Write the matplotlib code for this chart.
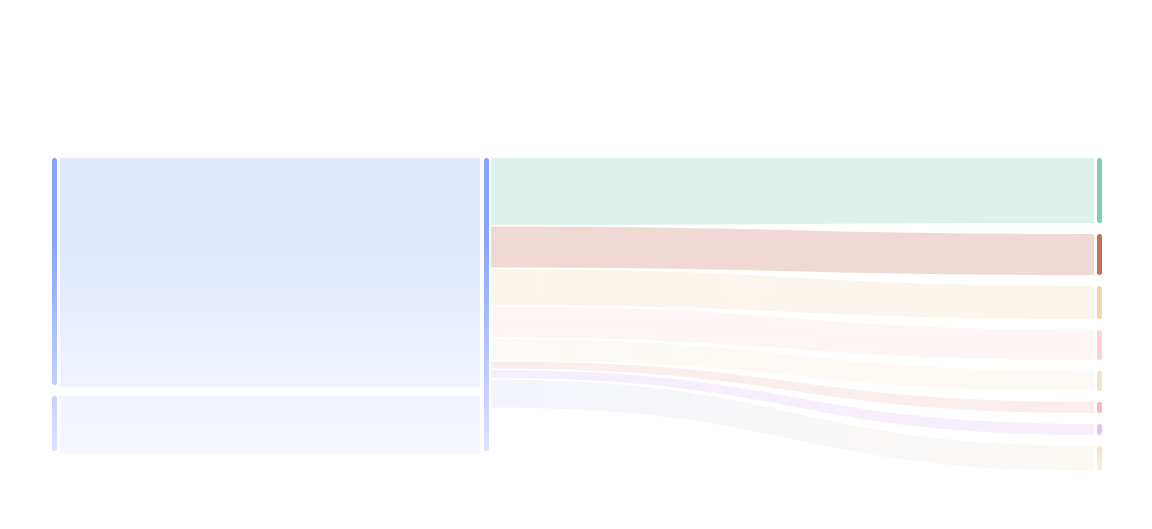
import numpy as np
import matplotlib.pyplot as plt
from matplotlib.path import Path
from matplotlib.patches import PathPatch, FancyBboxPatch
from matplotlib.colors import to_rgb

# data (no labels are shown in the chart, values read from band heights)
source_nodes = ["source_a", "source_b"]
source_values = [227, 55]

target_nodes = ["t1", "t2", "t3", "t4", "t5", "t6", "t7", "t8"]
target_values = [65, 41, 33, 30, 20, 11, 11, 25]
hub_out_values = [67, 41, 36, 31, 21, 7, 8, 28]

hub_color = "#88a4fc"
target_colors = ["#7fd0b2", "#c8705e", "#f2d6b0", "#ffd3d3",
                 "#f5e4c8", "#f5bcbc", "#e2c2fa", "#f0dcbc"]
target_bar_alpha = [1, 1, 1, 1, 1, 1, 1, 0.8]
link_start_colors = target_colors[:7] + ["#b8c4ee"]
link_alpha = [0.27, 0.27, 0.24, 0.22, 0.2, 0.27, 0.27, 0.16]

# layout
W, H = 1152, 529
top = 158
x_left, x_mid, x_right = 52, 484, 1097
bar_w = 5
gap = 11
hub_gap = 1.5

fig = plt.figure(figsize=(W / 100, H / 100), dpi=100)
ax = fig.add_axes([0, 0, 1, 1])
ax.axis("off")


def blue_fade(y):
    # hub colour fades out towards the bottom
    return 1 - 0.7 * np.clip((y - 240) / (450 - 240), 0, 1)


def flow_path(x0, y0a, y0b, x1, y1a, y1b):
    xm = (x0 + x1) / 2
    verts = [(x0, y0a), (xm, y0a), (xm, y1a), (x1, y1a),
             (x1, y1b), (xm, y1b), (xm, y0b), (x0, y0b), (x0, y0a)]
    codes = [Path.MOVETO, Path.CURVE4, Path.CURVE4, Path.CURVE4,
             Path.LINETO, Path.CURVE4, Path.CURVE4, Path.CURVE4, Path.CLOSEPOLY]
    return Path(verts, codes)


def fill_vertical(patch, x0, x1, y0, y1, color, alpha_fn):
    ax.add_patch(patch)
    patch.set_facecolor("none")
    patch.set_edgecolor("none")
    ys = np.linspace(y0, y1, 200)
    img = np.zeros((200, 1, 4))
    img[:, 0, :3] = to_rgb(color)
    img[:, 0, 3] = np.clip(alpha_fn(ys), 0, 1)
    im = ax.imshow(img, extent=(x0, x1, y1, y0), origin="upper",
                   aspect="auto", interpolation="bilinear")
    im.set_clip_path(patch)


def fill_horizontal(patch, x0, x1, y0, y1, c0, c1, alpha):
    ax.add_patch(patch)
    patch.set_facecolor("none")
    patch.set_edgecolor("none")
    t = np.linspace(0, 1, 300)
    img = np.zeros((1, 300, 4))
    img[0, :, :3] = np.outer(1 - t, to_rgb(c0)) + np.outer(t, to_rgb(c1))
    img[0, :, 3] = alpha
    im = ax.imshow(img, extent=(x0, x1, y1, y0), origin="upper",
                   aspect="auto", interpolation="bilinear")
    im.set_clip_path(patch)


def bar(x, y, h, color, alpha_fn):
    p = FancyBboxPatch((x, y), bar_w, h,
                       boxstyle="round,pad=0,rounding_size=2.4", lw=0)
    fill_vertical(p, x, x + bar_w, y, y + h, color, alpha_fn)


# source nodes and links into the hub
y = top
for v in source_values:
    bar(x_left, y, v, hub_color, blue_fade)
    p = PathPatch(flow_path(x_left + 8, y, y + v + 2, x_mid - 4, y, y + v + 2))
    fill_vertical(p, x_left + 8, x_mid - 4, y, y + v + 2, hub_color,
                  lambda yy: 0.25 * blue_fade(yy))
    y += v + gap

# hub node
hub_h = sum(source_values) + gap * (len(source_values) - 1)
bar(x_mid, top, hub_h, hub_color, blue_fade)

# links from hub to targets and target nodes
ys = top
yt = top
for i, (vo, vt) in enumerate(zip(hub_out_values, target_values)):
    c = target_colors[i]
    ba = target_bar_alpha[i]
    bar(x_right, yt, vt, c,
        lambda yy, ba=ba, y0=yt, h=vt: np.full_like(yy, ba) - (1 - ba) * (yy - y0) / h * 2)
    p = PathPatch(flow_path(x_mid + 7, ys, ys + vo, x_right - 3, yt, yt + vt))
    fill_horizontal(p, x_mid + 7, x_right - 3, min(ys, yt), max(ys + vo, yt + vt),
                    link_start_colors[i], c, link_alpha[i])
    ys += vo + hub_gap
    yt += vt + gap

ax.set_xlim(0, W)
ax.set_ylim(H, 0)
fig.savefig("out.png", dpi=100, facecolor="white")
